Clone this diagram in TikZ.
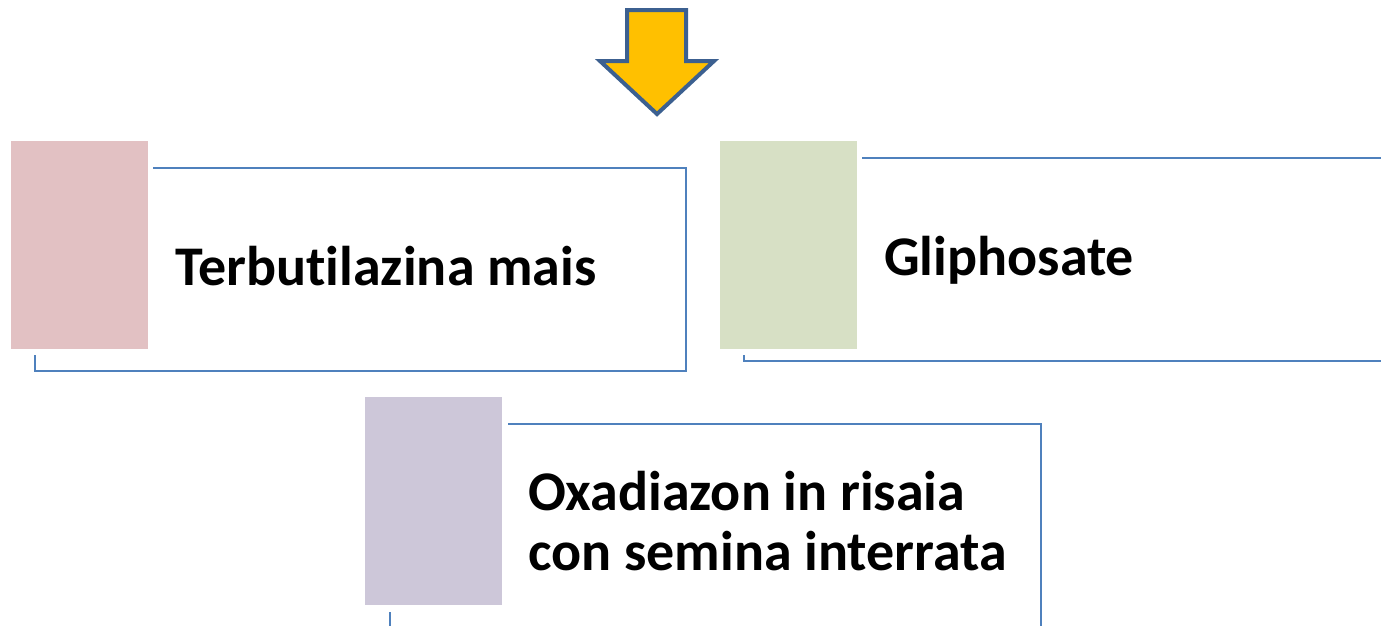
\documentclass[tikz,border=0pt]{standalone}
\usepackage{fontspec}
\setmainfont{Carlito}[Ligatures=NoCommon]
\definecolor{frameblue}{HTML}{4F81BD}
\definecolor{arrowblue}{HTML}{3C6090}
\definecolor{arrowfill}{HTML}{FFC000}
\definecolor{pinkbox}{HTML}{E2C1C3}
\definecolor{greenbox}{HTML}{D7E0C5}
\definecolor{purplebox}{HTML}{CDC7D9}
\tikzset{
  framepath/.style={draw=frameblue, line width=2pt},
  colbox/.style={draw=none, inner sep=0pt, anchor=north west, minimum width=137pt, minimum height=208pt},
  label/.style={anchor=base west, inner sep=0pt, font=\fontsize{56}{60}\selectfont\bfseries, align=left},
}
\begin{document}
\begin{tikzpicture}[x=1pt,y=-1pt]
\useasboundingbox (0,0) rectangle (1381,625);
\clip (0,0) rectangle (1381,625);
% arrow
\draw[draw=arrowblue, fill=arrowfill, line width=4pt, line join=miter]
  (627,10) -- (686,10) -- (686,61) -- (714,61) -- (657,114) -- (600,61) -- (627,61) -- cycle;
\coordinate (arrowtip) at (657,114);

% box 1
\node[colbox, fill=pinkbox] (b1) at (11,141) {};
\coordinate (f1a) at (153,168);
\coordinate (f1b) at (686,168);
\coordinate (f1c) at (686,371);
\coordinate (f1d) at (35,371);
\coordinate (f1e) at (35,355);
\draw[framepath] (f1a) -- (f1b) -- (f1c) -- (f1d) -- (f1e);
\node[label] (t1) at (175,285) {Terbutilazina mais};

% box 2
\node[colbox, fill=greenbox] (b2) at (720,141) {};
\coordinate (f2a) at (862,158);
\coordinate (f2b) at (1400,158);
\coordinate (f2c) at (1400,361);
\coordinate (f2d) at (744,361);
\coordinate (f2e) at (744,355);
\draw[framepath] (f2a) -- (f2b) -- (f2c) -- (f2d) -- (f2e);
\node[label] (t2) at (884,275) {Gliphosate};

% box 3
\node[colbox, fill=purplebox] (b3) at (365,397) {};
\coordinate (f3a) at (508,424);
\coordinate (f3b) at (1041,424);
\coordinate (f3c) at (1041,640);
\coordinate (f3d) at (390,640);
\coordinate (f3e) at (390,612);
\draw[framepath] (f3a) -- (f3b) -- (f3c) -- (f3d) -- (f3e);
\node[label] (t3a) at (528,510) {Oxadiazon in risaia};
\node[label] (t3b) at (528,570) {con semina interrata};
\end{tikzpicture}
\end{document}
